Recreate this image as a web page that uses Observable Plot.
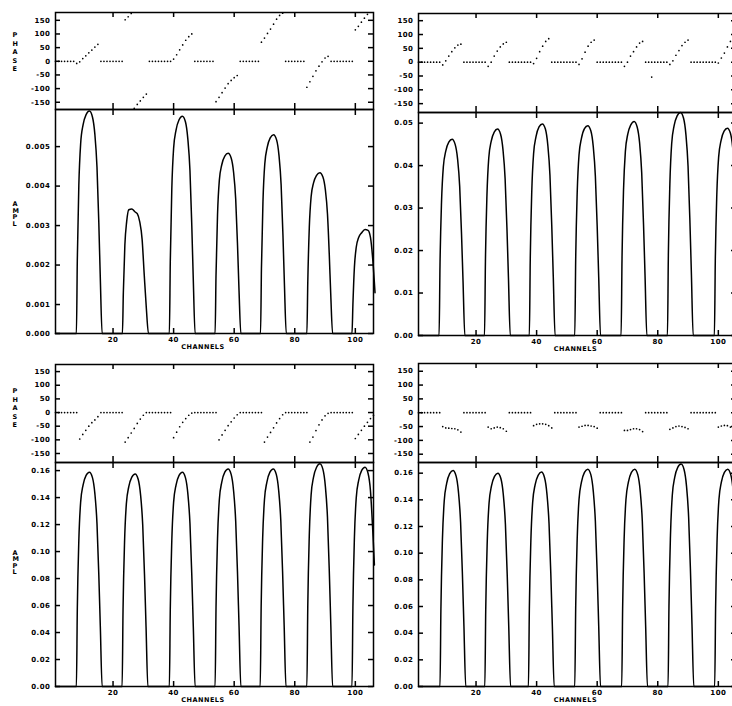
<!DOCTYPE html>
<html><head><meta charset="utf-8">
<script src="https://cdn.jsdelivr.net/npm/d3@7"></script>
<script src="https://cdn.jsdelivr.net/npm/@observablehq/plot@0.6"></script>
<style>
body{margin:0;background:#fff;}
#fig{position:relative;width:732px;height:706px;overflow:hidden;background:#fff;}
</style></head><body><div id="fig"></div>
<script>
// ---------------- data ----------------
const channelTicks = [20, 40, 60, 80, 100];
const phaseTicks = [-150, -100, -50, 0, 50, 100, 150];
const amplTicksTL = [0.000266, 0.001, 0.002, 0.003, 0.004, 0.005];
const amplTicksTR = [0, 0.01, 0.02, 0.03, 0.04, 0.05];
const amplTicksB = [0, 0.02, 0.04, 0.06, 0.08, 0.10, 0.12, 0.14, 0.16];

// phase per channel (index 0 = channel 1), null = no point
const phaseTL = [
  0,0,0,0,0,0,0,                       // 1-7
  -8,-2,10,20,31,41,52,62,             // 8-15
  0,0,0,0,0,0,0,0,                     // 16-23
  152,163,175,-172,-158,-145,-132,-120,// 24-31
  0,0,0,0,0,0,0,0,                     // 32-39
  8,24,42,60,77,90,100,                // 40-46
  0,0,0,0,0,0,0,                       // 47-53
  -148,-132,-115,-98,-82,-70,-60,-52,  // 54-61
  0,0,0,0,0,0,0,                       // 62-68
  70,85,102,118,136,154,168,176,       // 69-76
  0,0,0,0,0,0,0,                       // 77-83
  -95,-75,-55,-35,-18,-2,12,18,        // 84-91
  0,0,0,0,0,0,0,0,                     // 92-99
  115,128,143,158,172,null,null        // 100-106
];
const phaseTR = [
  0,0,0,0,0,0,0,0,                     // 1-8
  -10,5,22,38,52,62,65,                // 9-15
  0,0,0,0,0,0,0,0,                     // 16-23
  -15,0,22,40,55,66,72,                // 24-30
  0,0,0,0,0,0,0,0,                     // 31-38
  -5,14,38,58,75,85,                   // 39-44
  0,0,0,0,0,0,0,0,0,                   // 45-53
  -8,12,36,58,72,80,                   // 54-59
  0,0,0,0,0,0,0,0,0,                   // 60-68
  -15,0,22,38,55,69,75,                // 69-75
  0,0,0,0,0,0,0,0,                     // 76-83
  -8,5,25,42,60,72,80,                 // 84-90
  0,0,0,0,0,0,0,0,0,                   // 91-99
  -3,15,33,55,75,90,null               // 100-106
];
const phaseExtraTR = [[78, -54]];
const phaseBL = [
  0,0,0,0,0,0,0,0,                     // 1-8
  -97,-80,-65,-50,-37,-27,-15,         // 9-15
  0,0,0,0,0,0,0,0,                     // 16-23
  -108,-92,-75,-58,-40,-24,-10,        // 24-30
  0,0,0,0,0,0,0,0,0,                   // 31-39
  -92,-72,-52,-36,-22,-10,-2,          // 40-46
  0,0,0,0,0,0,0,0,                     // 47-54
  -100,-82,-65,-48,-34,-20,-8,         // 55-61
  0,0,0,0,0,0,0,0,                     // 62-69
  -108,-90,-73,-56,-38,-22,-8,         // 70-76
  0,0,0,0,0,0,0,0,                     // 77-84
  -108,-90,-66,-45,-27,-12,-3,         // 85-91
  0,0,0,0,0,0,0,0,                     // 92-99
  -95,-80,-65,-50,-36,-22,-10          // 100-106
];
const phaseBR = [
  0,0,0,0,0,0,0,0,                     // 1-8
  -50,-55,-56,-57,-58,-62,-70,         // 9-15
  0,0,0,0,0,0,0,0,                     // 16-23
  -52,-58,-55,-52,-54,-58,-67,         // 24-30
  0,0,0,0,0,0,0,0,                     // 31-38
  -47,-42,-40,-40,-42,-47,-55,         // 39-45
  0,0,0,0,0,0,0,0,                     // 46-53
  -52,-49,-46,-46,-48,-50,-56,         // 54-60
  0,0,0,0,0,0,0,0,                     // 61-68
  -64,-64,-61,-58,-58,-61,-68,         // 69-75
  0,0,0,0,0,0,0,0,                     // 76-83
  -60,-55,-50,-48,-50,-53,-58,         // 84-90
  0,0,0,0,0,0,0,0,0,                   // 91-99
  -52,-48,-46,-47,-52,null,null        // 100-106
];

// amplitude: [channel, value]
const amplTL = [[1,0],
[7.9,0],[8.2,0.00212],[8.7,0.00401],[9.3,0.00507],[10.1,0.00555],[11.1,0.00581],[12.2,0.0059],[13.2,0.00575],[14.0,0.00531],[14.7,0.00448],[15.3,0.00307],[15.8,0.00165],[16.4,0],
[23.1,0],[23.4,0.0013],[23.9,0.0025],[24.5,0.0031],[25.2,0.0034],[26.2,0.00342],[27.2,0.00335],[28.0,0.0033],[28.8,0.0031],[29.6,0.00265],[30.3,0.00175],[31.0,0.0009],[31.7,0],
[38.6,0],[38.9,0.00208],[39.4,0.00392],[40.0,0.00496],[40.8,0.00542],[41.8,0.00568],[42.9,0.00577],[43.9,0.00563],[44.7,0.00519],[45.4,0.00439],[46.0,0.0030],[46.5,0.00162],[47.1,0],
[53.7,0],[54.0,0.00174],[54.5,0.00328],[55.1,0.00415],[55.9,0.00454],[56.9,0.00476],[58.0,0.00483],[59.0,0.00471],[59.8,0.00435],[60.5,0.00367],[61.1,0.00251],[61.6,0.00135],[62.2,0],
[68.7,0],[69.0,0.00191],[69.5,0.0036],[70.1,0.00456],[70.9,0.00498],[71.9,0.00522],[73.0,0.0053],[74.0,0.00517],[74.8,0.00477],[75.5,0.00403],[76.1,0.00276],[76.6,0.00148],[77.2,0],
[84.0,0],[84.3,0.00156],[84.8,0.00295],[85.4,0.00373],[86.2,0.00408],[87.2,0.00427],[88.3,0.00434],[89.3,0.00423],[90.1,0.00391],[90.8,0.0033],[91.4,0.00226],[91.9,0.00122],[92.5,0],
[98.9,0],[99.2,0.0010],[99.7,0.00195],[100.3,0.00245],[101.1,0.0027],[102.1,0.00282],[103.2,0.0029],[104.2,0.00288],[105.0,0.0027],[105.8,0.0021],[106.5,0.0013]];

const amplTR = [[1,0],
[7.8,0],[8.1,0.0166],[8.6,0.0314],[9.2,0.0397],[10.0,0.0434],[11.0,0.0455],[12.1,0.0462],[13.1,0.0450],[13.9,0.0416],[14.6,0.0351],[15.2,0.0240],[15.7,0.0129],[16.3,0],
[22.8,0],[23.1,0.0175],[23.6,0.0330],[24.2,0.0418],[25.0,0.0457],[26.0,0.0479],[27.1,0.0486],[28.1,0.0474],[28.9,0.0437],[29.6,0.0369],[30.2,0.0253],[30.7,0.0136],[31.3,0],
[37.6,0],[37.9,0.0179],[38.4,0.0339],[39.0,0.0428],[39.8,0.0468],[40.8,0.0491],[41.9,0.0498],[42.9,0.0486],[43.7,0.0448],[44.4,0.0378],[45.0,0.0259],[45.5,0.0139],[46.1,0],
[52.6,0],[52.9,0.0178],[53.4,0.0336],[54.0,0.0425],[54.8,0.0464],[55.8,0.0487],[56.9,0.0494],[57.9,0.0482],[58.7,0.0445],[59.4,0.0375],[60.0,0.0257],[60.5,0.0138],[61.1,0],
[67.9,0],[68.2,0.0181],[68.7,0.0343],[69.3,0.0433],[70.1,0.0474],[71.1,0.0496],[72.2,0.0504],[73.2,0.0491],[74.0,0.0454],[74.7,0.0383],[75.3,0.0262],[75.8,0.0141],[76.4,0],
[83.2,0],[83.5,0.0189],[84.0,0.0357],[84.6,0.0452],[85.4,0.0494],[86.4,0.0517],[87.5,0.0525],[88.5,0.0512],[89.3,0.0473],[90.0,0.0399],[90.6,0.0273],[91.1,0.0147],[91.7,0],
[98.7,0],[99.0,0.0176],[99.5,0.0332],[100.1,0.0420],[100.9,0.0459],[101.9,0.0481],[103.0,0.0488],[104.0,0.0476],[104.8,0.0439],[105.5,0.0371],[106.1,0.0254]];

const amplBL = [[1,0],
[7.9,0],[8.2,0.0572],[8.7,0.108],[9.3,0.1366],[10.1,0.1493],[11.1,0.1564],[12.2,0.1588],[13.2,0.1548],[14.0,0.1429],[14.7,0.1207],[15.3,0.0826],[15.8,0.0445],[16.4,0],
[23.0,0],[23.3,0.0567],[23.8,0.1071],[24.4,0.1355],[25.2,0.1481],[26.2,0.1551],[27.3,0.1575],[28.3,0.1536],[29.1,0.1418],[29.8,0.1197],[30.4,0.0819],[30.9,0.0441],[31.5,0],
[38.6,0],[38.9,0.0572],[39.4,0.108],[40.0,0.1366],[40.8,0.1493],[41.8,0.1564],[42.9,0.1588],[43.9,0.1548],[44.7,0.1429],[45.4,0.1207],[46.0,0.0826],[46.5,0.0445],[47.1,0],
[53.7,0],[54.0,0.058],[54.5,0.1096],[55.1,0.1386],[55.9,0.1515],[56.9,0.1588],[58.0,0.1612],[59.0,0.1572],[59.8,0.1451],[60.5,0.1225],[61.1,0.0838],[61.6,0.0451],[62.2,0],
[68.6,0],[68.9,0.058],[69.4,0.1096],[70.0,0.1386],[70.8,0.1515],[71.8,0.1588],[72.9,0.1612],[73.9,0.1572],[74.7,0.1451],[75.4,0.1225],[76.0,0.0838],[76.5,0.0451],[77.1,0],
[84.0,0],[84.3,0.0594],[84.8,0.1122],[85.4,0.1419],[86.2,0.1551],[87.2,0.1625],[88.3,0.165],[89.3,0.1609],[90.1,0.1485],[90.8,0.1254],[91.4,0.0858],[91.9,0.0462],[92.5,0],
[98.9,0],[99.2,0.0585],[99.7,0.1105],[100.3,0.1398],[101.1,0.1528],[102.1,0.1601],[103.2,0.1625],[104.2,0.158],[105.0,0.145],[105.7,0.118],[106.3,0.09]];

const amplBR = [[1,0],
[8.1,0],[8.4,0.0583],[8.9,0.1102],[9.5,0.1393],[10.3,0.1523],[11.3,0.1596],[12.4,0.162],[13.4,0.158],[14.2,0.1458],[14.9,0.1231],[15.5,0.0842],[16.0,0.0454],[16.6,0],
[22.9,0],[23.2,0.0576],[23.7,0.1088],[24.3,0.1376],[25.1,0.1504],[26.1,0.1576],[27.2,0.160],[28.2,0.156],[29.0,0.144],[29.7,0.1216],[30.3,0.0832],[30.8,0.0448],[31.4,0],
[37.3,0],[37.6,0.0579],[38.1,0.1093],[38.7,0.1383],[39.5,0.1512],[40.5,0.1584],[41.6,0.1608],[42.6,0.1568],[43.4,0.1447],[44.1,0.1222],[44.7,0.0836],[45.2,0.045],[45.8,0],
[52.6,0],[52.9,0.0587],[53.4,0.1108],[54.0,0.1402],[54.8,0.1532],[55.8,0.1606],[56.9,0.163],[57.9,0.1589],[58.7,0.1467],[59.4,0.1239],[60.0,0.0848],[60.5,0.0456],[61.1,0],
[68.1,0],[68.4,0.0587],[68.9,0.1108],[69.5,0.1402],[70.3,0.1532],[71.3,0.1606],[72.4,0.163],[73.4,0.1589],[74.2,0.1467],[74.9,0.1239],[75.5,0.0848],[76.0,0.0456],[76.6,0],
[83.4,0],[83.7,0.06],[84.2,0.1134],[84.8,0.1434],[85.6,0.1568],[86.6,0.1643],[87.7,0.1668],[88.7,0.1626],[89.5,0.1501],[90.2,0.1268],[90.8,0.0867],[91.3,0.0467],[91.9,0],
[98.8,0],[99.1,0.0587],[99.6,0.1108],[100.2,0.1402],[101.0,0.1532],[102.0,0.1606],[103.1,0.163],[104.1,0.1589],[104.9,0.1467],[105.6,0.1239],[106.2,0.09]];

// ---------------- drawing ----------------
const fig = document.getElementById("fig");
const STYLE = "font-family:'DejaVu Sans',sans-serif;font-size:7px;font-weight:bold;letter-spacing:0.5px;background:transparent;overflow:visible;color:#000;max-width:none;";
const chDomain = [1, 106];
const SW = 1.5;

function addPlot(opts, left, top) {
  const svg = Plot.plot(opts);
  svg.style.position = "absolute";
  svg.style.left = left + "px";
  svg.style.top = top + "px";
  fig.appendChild(svg);
}

function panel(P) {
  const fw = P.right - P.left;
  const ML = 55, MR = 8;
  // phase sub-plot
  const fhP = P.mid - P.top;
  const ph = P.phase.map((p, i) => ({ch: i + 1, p})).filter(d => d.p !== null)
    .concat((P.extra || []).map(([ch, p]) => ({ch, p})));
  const phMarks = [
    Plot.frame({stroke: "#000", strokeWidth: SW}),
    Plot.tickY(phaseTicks, {y: d => d, insetRight: fw - 5, strokeWidth: SW}),
    Plot.tickY(phaseTicks, {y: d => d, insetLeft: fw - 5, strokeWidth: SW}),
    Plot.tickX(channelTicks, {x: d => d, insetBottom: fhP - 5, strokeWidth: SW}),
    Plot.tickX(channelTicks, {x: d => d, insetTop: fhP - 6, strokeWidth: SW}),
    Plot.axisY({ticks: phaseTicks, tickSize: 0, tickPadding: 5, tickFormat: d => String(d), label: null}),
    Plot.dot(ph, {x: "ch", y: "p", r: 0.85, fill: "#000", stroke: null})
  ];
  if (P.titles) phMarks.push(Plot.text(["P\nH\nA\nS\nE"], {frameAnchor: "left", dx: -43, dy: P.phaseTitleDy, lineHeight: 1.3, fontSize: 6.5}));
  addPlot({
    width: fw + ML + MR, height: fhP + 8,
    marginLeft: ML, marginRight: MR, marginTop: 4, marginBottom: 4,
    style: STYLE,
    x: {domain: chDomain, axis: null},
    y: {domain: P.phaseDomain},
    marks: phMarks
  }, P.left - ML, P.top - 4);

  // amplitude sub-plot
  const fhA = P.bottom - P.mid;
  const aMarks = [
    Plot.frame({stroke: "#000", strokeWidth: SW}),
    Plot.tickY(P.amplTicks, {y: d => d, insetRight: fw - 5, strokeWidth: SW}),
    Plot.tickY(P.amplTicks, {y: d => d, insetLeft: fw - 5, strokeWidth: SW}),
    Plot.tickX(channelTicks, {x: d => d, insetTop: fhA - 5, strokeWidth: SW}),
    Plot.tickX(channelTicks, {x: d => d, insetBottom: fhA - 6, strokeWidth: SW}),
    Plot.axisY({ticks: P.amplTicks, tickSize: 0, tickPadding: 5, tickFormat: d3.format(P.fmt), label: null}),
    Plot.axisX({ticks: channelTicks, tickSize: 0, tickPadding: 4, label: null}),
    Plot.text(["CHANNELS"], {x: P.chanX, frameAnchor: "bottom", dy: 15.8, fontSize: 6.5}),
    Plot.line(P.ampl, {x: d => d[0], y: d => d[1], curve: "monotone-x", strokeWidth: SW, stroke: "#000"})
  ];
  if (P.titles) aMarks.push(Plot.text(["A\nM\nP\nL"], {frameAnchor: "left", dx: -43, dy: P.amplTitleDy, lineHeight: 1.0, fontSize: 6.5}));
  addPlot({
    width: fw + ML + MR, height: fhA + 4 + 24,
    marginLeft: ML, marginRight: MR, marginTop: 4, marginBottom: 24,
    style: STYLE,
    x: {domain: chDomain},
    y: {domain: P.amplDomain, clamp: true},
    marks: aMarks
  }, P.left - ML, P.mid - 4);
}

panel({left: 55, right: 373, top: 12, mid: 109, bottom: 333,
  phase: phaseTL, phaseDomain: [-176.5, 178.6],
  ampl: amplTL, amplDomain: [0.000266, 0.00594], amplTicks: amplTicksTL, fmt: ".3f",
  chanX: 49.7, titles: true, phaseTitleDy: -9.5, amplTitleDy: -7.5});
panel({left: 418, right: 736, top: 13, mid: 112, bottom: 335,
  phase: phaseTR, extra: phaseExtraTR, phaseDomain: [-182, 176],
  ampl: amplTR, amplDomain: [0, 0.0525], amplTicks: amplTicksTR, fmt: ".2f",
  chanX: 52.8, titles: false});
panel({left: 55, right: 373, top: 364, mid: 462, bottom: 686,
  phase: phaseBL, phaseDomain: [-183, 176],
  ampl: amplBL, amplDomain: [0, 0.166], amplTicks: amplTicksB, fmt: ".2f",
  chanX: 49.7, titles: true, phaseTitleDy: -6, amplTitleDy: -12});
panel({left: 418, right: 736, top: 363, mid: 462, bottom: 686,
  phase: phaseBR, phaseDomain: [-180, 178],
  ampl: amplBR, amplDomain: [0, 0.168], amplTicks: amplTicksB, fmt: ".2f",
  chanX: 52.8, titles: false});
</script></body></html>
